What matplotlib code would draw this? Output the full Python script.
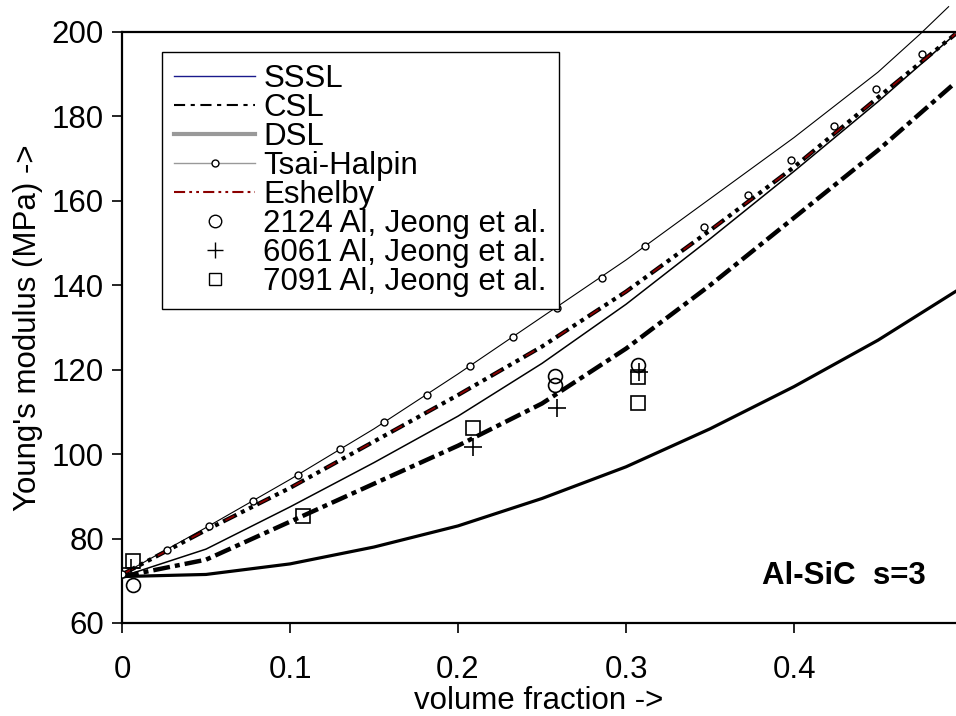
import matplotlib
matplotlib.use("Agg")
import matplotlib.pyplot as plt
from matplotlib.lines import Line2D

plt.rcParams['font.family'] = ['Liberation Sans', 'DejaVu Sans']
plt.rcParams['lines.scale_dashes'] = False

# volume fraction grid for the model curves
vf = [0, 0.05, 0.10, 0.15, 0.20, 0.25, 0.30, 0.35, 0.40, 0.45, 0.496]

# model predictions, Young's modulus (MPa)
sssl = [71.0, 77.5, 87.5, 98.0, 109.0, 121.5, 135.5, 151.0, 167.0, 183.5, 199.5]
csl_upper = [71.5, 82.0, 92.0, 103.0, 114.0, 125.5, 138.5, 153.0, 168.0, 184.5, 199.5]
csl_lower = [71.0, 75.0, 84.0, 93.0, 102.0, 112.0, 125.0, 140.0, 156.0, 172.0, 188.0]
dsl = [71.0, 71.5, 74.0, 78.0, 83.0, 89.5, 97.0, 106.0, 116.0, 127.0, 138.5]

# Tsai-Halpin curve (runs past the top of the frame)
th_vf = [0, 0.05, 0.10, 0.15, 0.20, 0.25, 0.30, 0.35, 0.40, 0.45, 0.475, 0.492]
th_E = [71.5, 82.6, 94.0, 106.0, 119.0, 132.5, 146.0, 160.5, 175.0, 190.5, 199.5, 206.0]
th_mvf = [0, 0.0268, 0.0518, 0.078, 0.1048, 0.130, 0.156, 0.1815, 0.207, 0.233,
          0.259, 0.2857, 0.311, 0.3464, 0.3726, 0.398, 0.424, 0.449, 0.476]
th_mE = [71.5, 77.3, 83.0, 88.9, 95.1, 101.2, 107.6, 114.0, 120.9, 127.8,
         134.6, 141.7, 149.3, 153.8, 161.4, 169.7, 177.7, 186.5, 194.8]

# measurements, Jeong et al.
al2124_vf = [0.0065, 0.258, 0.258, 0.307]
al2124_E = [69.0, 118.5, 116.4, 121.1]
al6061_vf = [0.0053, 0.209, 0.259, 0.308]
al6061_E = [73.0, 101.7, 110.9, 119.5]
al7091_vf = [0.0065, 0.108, 0.209, 0.307, 0.307]
al7091_E = [74.7, 85.3, 106.2, 118.3, 112.1]

xticks = [0, 0.1, 0.2, 0.3, 0.4]
xticklabels = ['0', '0.1', '0.2', '0.3', '0.4']
yticks = [60, 80, 100, 120, 140, 160, 180, 200]

FS = 22.5

fig = plt.figure(figsize=(9.56, 7.16), dpi=100)
ax = fig.add_axes([122 / 956, 1 - 623 / 716, 834 / 956, 591 / 716])

ax.plot(th_vf, th_E, color='black', lw=0.8, clip_on=False, zorder=3)
ax.plot(th_mvf, th_mE, ls='none', marker='o', ms=5, mfc='white', mec='black',
        mew=1.0, zorder=4)
ax.plot(vf, sssl, color='black', lw=1.1, zorder=3)
ax.plot(vf, dsl, color='black', lw=2.3, zorder=3)
ax.plot(vf, csl_lower, color='black', lw=3.2, dash_capstyle='butt',
        ls=(0, (12.2, 3.6, 3.6, 3.6)), zorder=3)
ax.plot(vf, csl_upper, color='black', lw=3.0, dash_capstyle='butt',
        ls=(0, (10.8, 3.6, 2.9, 3.6, 2.9, 3.6)), zorder=3)
ax.plot(vf, csl_upper, color='#8b0000', lw=1.3, dash_capstyle='butt',
        ls=(25.6, (7.2, 20.2)), zorder=3.1)

ax.plot(al2124_vf, al2124_E, ls='none', marker='o', ms=10, mfc='none',
        mec='black', mew=1.2, zorder=5)
ax.plot(al6061_vf, al6061_E, ls='none', marker='+', ms=13, mec='black',
        mew=1.2, zorder=5)
ax.plot(al7091_vf, al7091_E, ls='none', marker='s', ms=9.5, mfc='none',
        mec='black', mew=1.2, zorder=5)

ax.set_xlim(0, 0.4964)
ax.set_ylim(60, 200)
ax.set_xticks(xticks)
ax.set_xticklabels(xticklabels)
ax.set_yticks(yticks)
ax.tick_params(direction='out', length=7, width=1.2, labelsize=FS)
ax.tick_params(axis='x', pad=16)
ax.tick_params(axis='y', pad=6)
for side in ['left', 'bottom', 'top']:
    ax.spines[side].set_linewidth(1.6)
ax.spines['right'].set_visible(False)

ax.set_xlabel('volume fraction ->', fontsize=FS, labelpad=1)
ax.set_ylabel("Young's modulus (MPa) ->", fontsize=FS, labelpad=6)

ax.text(0.767, 0.0795, 'Al-SiC  s=3', transform=ax.transAxes, fontsize=FS,
        fontweight='bold', ha='left', va='center')

handles = [
    Line2D([], [], color='#1a1a8c', lw=1.0),
    Line2D([], [], color='black', lw=1.5, ls=(0, (8, 4, 3, 4))),
    Line2D([], [], color='#999999', lw=3.0),
    Line2D([], [], color='#999999', lw=1.0, marker='o', ms=5, mfc='white',
           mec='black'),
    Line2D([], [], color='#8b0000', lw=1.5, ls=(0, (8, 3, 2, 3, 2, 3))),
    Line2D([], [], ls='none', marker='o', ms=9, mfc='none', mec='black'),
    Line2D([], [], ls='none', marker='+', ms=12, mec='black'),
    Line2D([], [], ls='none', marker='s', ms=8, mfc='none', mec='black'),
]
labels = ['SSSL', 'CSL', 'DSL', 'Tsai-Halpin', 'Eshelby',
          '2124 Al, Jeong et al.', '6061 Al, Jeong et al.', '7091 Al, Jeong et al.']
leg = ax.legend(handles, labels, loc='upper left',
                bbox_to_anchor=(162 / 956, 1 - 52 / 716),
                bbox_transform=fig.transFigure, borderaxespad=0,
                fontsize=FS, handlelength=2.6, handletextpad=0.26,
                labelspacing=-0.03, borderpad=0.38, fancybox=False,
                framealpha=1, edgecolor='black', numpoints=1)
leg.get_frame().set_linewidth(1.0)
leg.set_zorder(10)

fig.savefig('out.png', dpi=100)
